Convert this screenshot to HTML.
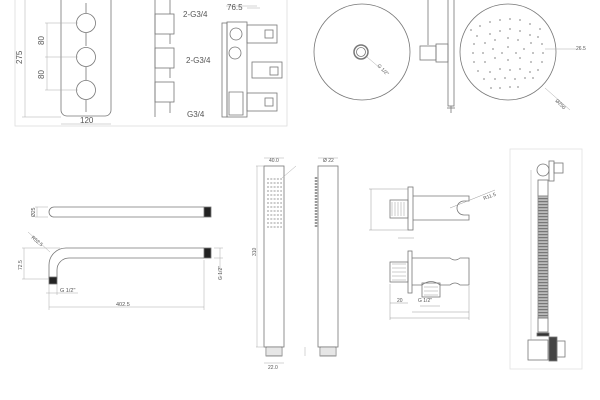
<!DOCTYPE html>
<html><head><meta charset="utf-8"><style>
html,body{margin:0;padding:0;background:#fff;width:600px;height:400px;overflow:hidden}
svg{display:block}
text{font-family:"Liberation Sans",sans-serif;fill:#555}
</style></head><body>
<svg width="600" height="400" viewBox="0 0 600 400" xmlns="http://www.w3.org/2000/svg">
<defs>
<pattern id="hs" width="10" height="3" patternUnits="userSpaceOnUse"><rect width="10" height="3" fill="#bbb"/><rect width="10" height="1.2" fill="#777"/></pattern>
</defs>
<g fill="none" stroke="#777" stroke-width="0.8">
<rect x="15" y="-2" width="272" height="128" stroke="#ddd"/>
<rect x="61" y="-8" width="50" height="124" rx="6"/>
<circle cx="86" cy="23" r="9.5"/><circle cx="86" cy="57" r="9.5"/><circle cx="86" cy="90" r="9.5"/>
<line x1="86" y1="3" x2="86" y2="13"/><line x1="86" y1="33" x2="86" y2="46"/><line x1="86" y1="67" x2="86" y2="80"/><line x1="86" y1="100" x2="86" y2="112"/>
<g stroke="#aaa" stroke-width="0.5">
<line x1="25" y1="0" x2="25" y2="117"/><line x1="22" y1="117" x2="61" y2="117"/>
<line x1="45" y1="23" x2="78" y2="23"/><line x1="45" y1="57" x2="78" y2="57"/><line x1="45" y1="90" x2="78" y2="90"/>
<line x1="47" y1="23" x2="47" y2="90"/>
<line x1="61" y1="124" x2="111" y2="124"/>
</g>
<line x1="155" y1="0" x2="155" y2="117"/>
<rect x="155" y="14" width="19" height="20"/><rect x="155" y="48" width="19" height="20"/><rect x="155" y="82" width="19" height="20"/>
<line x1="170" y1="0" x2="170" y2="14"/><line x1="170" y1="34" x2="170" y2="44"/><line x1="170" y1="68" x2="170" y2="78"/><line x1="170" y1="102" x2="170" y2="113"/>
<rect x="222" y="23" width="5" height="94"/>
<rect x="227" y="22" width="20" height="95"/>
<circle cx="236" cy="34" r="6"/><circle cx="235" cy="53" r="6"/>
<rect x="247" y="25" width="30" height="18"/><rect x="252" y="62" width="30" height="16"/><rect x="247" y="93" width="30" height="18"/>
<rect x="265" y="30" width="8" height="8"/><rect x="270" y="67" width="8" height="8"/><rect x="265" y="98" width="8" height="8"/>
<path d="M229 92 L243 92 L243 115 L229 115 Z"/>
<line x1="247" y1="8" x2="260" y2="8" stroke="#aaa" stroke-width="0.5"/>
<line x1="226" y1="6" x2="257" y2="6" stroke="#aaa" stroke-width="0.5"/>
<circle cx="362" cy="52" r="48"/>
<circle cx="361" cy="52" r="7" stroke-width="1.5"/><circle cx="361" cy="52" r="4.5"/>
<line x1="367" y1="57" x2="380" y2="68" stroke="#aaa" stroke-width="0.5"/>
<rect x="448" y="-2" width="6" height="108"/>
<line x1="428" y1="0" x2="428" y2="45"/>
<rect x="420" y="46" width="16" height="14"/><rect x="436" y="44" width="12" height="18"/>
<line x1="451" y1="106" x2="451" y2="113"/><line x1="447" y1="108" x2="455" y2="108"/>
<circle cx="508" cy="52" r="48"/>
<line x1="545" y1="49" x2="576" y2="49" stroke="#aaa" stroke-width="0.5"/>
<line x1="545" y1="88" x2="570" y2="110" stroke="#aaa" stroke-width="0.5"/>
<path d="M204 207 L54 207 A5 5 0 0 0 54 217 L204 217"/>
<rect x="204" y="207" width="7" height="10" fill="#222"/>
<path d="M204 248 L66 248 A17 17 0 0 0 49 265 L49 279 M57 279 L57 270 A12 12 0 0 1 69 258 L204 258"/>
<rect x="204" y="248" width="7" height="10" fill="#222"/>
<rect x="49" y="277" width="8" height="7" fill="#222"/>
<g stroke="#aaa" stroke-width="0.5">
<line x1="37" y1="207" x2="37" y2="217"/><line x1="35" y1="207" x2="48" y2="207"/><line x1="35" y1="217" x2="48" y2="217"/>
<line x1="22" y1="248" x2="60" y2="248"/><line x1="22" y1="279" x2="49" y2="279"/><line x1="24" y1="248" x2="24" y2="279"/>
<line x1="28" y1="232" x2="50" y2="252"/>
<line x1="214" y1="248" x2="223" y2="248"/><line x1="214" y1="258" x2="223" y2="258"/><line x1="220" y1="248" x2="220" y2="280"/>
<line x1="49" y1="284" x2="49" y2="310"/><line x1="57" y1="284" x2="57" y2="295"/><line x1="46" y1="293" x2="78" y2="293"/>
<line x1="204" y1="260" x2="204" y2="310"/><line x1="49" y1="307" x2="204" y2="307"/>
</g>
<rect x="264" y="166" width="20" height="181"/>
<rect x="266" y="347" width="16" height="9"/>
<rect x="318" y="166" width="20" height="181"/>
<rect x="320" y="347" width="16" height="9"/>
<g stroke="#aaa" stroke-width="0.5">
<line x1="256" y1="166" x2="264" y2="166"/><line x1="256" y1="347" x2="264" y2="347"/><line x1="257" y1="166" x2="257" y2="347"/>
<line x1="264" y1="158" x2="284" y2="158"/><line x1="318" y1="158" x2="338" y2="158"/>
<line x1="264" y1="363" x2="284" y2="363"/><line x1="305" y1="347" x2="305" y2="356"/>
<line x1="282" y1="178" x2="296" y2="166"/>
</g>
<g stroke="#bbb" stroke-dasharray="2 1.3" stroke-width="1.4">
<line x1="267" y1="179" x2="282" y2="179"/><line x1="267" y1="183" x2="282" y2="183"/><line x1="267" y1="187" x2="282" y2="187"/><line x1="267" y1="191" x2="282" y2="191"/><line x1="267" y1="195" x2="282" y2="195"/><line x1="267" y1="199" x2="282" y2="199"/><line x1="267" y1="203" x2="282" y2="203"/><line x1="267" y1="207" x2="282" y2="207"/><line x1="267" y1="211" x2="282" y2="211"/><line x1="267" y1="215" x2="282" y2="215"/><line x1="267" y1="219" x2="282" y2="219"/><line x1="267" y1="223" x2="282" y2="223"/><line x1="267" y1="227" x2="282" y2="227"/>
</g>
<line x1="316" y1="177" x2="316" y2="228" stroke="#999" stroke-width="2.5" stroke-dasharray="2 1"/>
<g stroke="#999" stroke-width="0.5">
<line x1="267" y1="349" x2="281" y2="349"/><line x1="267" y1="351" x2="281" y2="351"/><line x1="267" y1="353" x2="281" y2="353"/><line x1="267" y1="355" x2="281" y2="355"/>
<line x1="321" y1="349" x2="335" y2="349"/><line x1="321" y1="351" x2="335" y2="351"/><line x1="321" y1="353" x2="335" y2="353"/><line x1="321" y1="355" x2="335" y2="355"/>
</g>
<rect x="408" y="187" width="5" height="43"/>
<path d="M413 196 L469 196 L469 201 L464 201 A6 6 0 1 0 464 215 L469 215 L469 220 L413 220"/>
<rect x="390" y="200" width="18" height="18"/>
<g stroke="#999" stroke-width="0.5">
<line x1="392" y1="202" x2="392" y2="216"/><line x1="395" y1="202" x2="395" y2="216"/><line x1="398" y1="202" x2="398" y2="216"/><line x1="401" y1="202" x2="401" y2="216"/><line x1="404" y1="202" x2="404" y2="216"/>
<line x1="371" y1="189" x2="371" y2="230"/><line x1="369" y1="189" x2="408" y2="189"/><line x1="369" y1="230" x2="408" y2="230"/>
<line x1="398" y1="238" x2="414" y2="238"/><line x1="450" y1="208" x2="495" y2="190"/>
</g>
<rect x="408" y="251" width="4" height="42"/>
<path d="M412 258 L450 258 Q455 262 460 258 L469 258 L469 285 L460 285 Q455 281 450 285 L440 285 Q431 278 422 285 L412 285"/>
<rect x="390" y="262" width="18" height="20"/>
<rect x="422" y="283" width="18" height="14"/>
<g stroke="#999" stroke-width="0.5">
<line x1="392" y1="264" x2="406" y2="264"/><line x1="392" y1="268" x2="406" y2="268"/><line x1="392" y1="272" x2="406" y2="272"/><line x1="392" y1="276" x2="406" y2="276"/><line x1="392" y1="280" x2="406" y2="280"/>
<line x1="424" y1="287" x2="438" y2="287"/><line x1="424" y1="291" x2="438" y2="291"/><line x1="424" y1="295" x2="438" y2="295"/>
<line x1="390" y1="303" x2="408" y2="303"/><line x1="420" y1="306" x2="440" y2="306"/><line x1="412" y1="312" x2="469" y2="312"/><line x1="390" y1="318" x2="469" y2="318"/>
<line x1="390" y1="284" x2="390" y2="320"/><line x1="469" y1="286" x2="469" y2="320"/>
</g>
<rect x="510" y="149" width="72" height="220" stroke="#e2e2e2"/>
<circle cx="543" cy="170" r="6"/>
<rect x="549" y="161" width="5" height="20"/><rect x="554" y="163" width="9" height="10"/>
<rect x="538" y="180" width="10" height="16"/>
<rect x="538" y="196" width="10" height="122" fill="url(#hs)" stroke="#888"/>
<rect x="538" y="318" width="10" height="14"/>
<rect x="537" y="333" width="12" height="3" fill="#333"/>
<rect x="528" y="340" width="20" height="20"/>
<rect x="549" y="337" width="8" height="24" fill="#444"/><rect x="557" y="341" width="8" height="16"/>
<line x1="531" y1="170" x2="531" y2="340" stroke="#aaa" stroke-width="0.5"/>
</g>
<g fill="#999">
<circle cx="471" cy="30" r="0.9"/><circle cx="480" cy="26" r="0.9"/><circle cx="490" cy="22" r="0.9"/><circle cx="500" cy="20" r="0.9"/><circle cx="510" cy="19" r="0.9"/><circle cx="520" cy="20" r="0.9"/><circle cx="530" cy="24" r="0.9"/><circle cx="540" cy="29" r="0.9"/>
<circle cx="477" cy="36" r="0.9"/><circle cx="490" cy="34" r="0.9"/><circle cx="500" cy="31" r="0.9"/><circle cx="510" cy="29" r="0.9"/><circle cx="520" cy="31" r="0.9"/><circle cx="530" cy="35" r="0.9"/><circle cx="538" cy="37" r="0.9"/>
<circle cx="474" cy="44" r="0.9"/><circle cx="485" cy="43" r="0.9"/><circle cx="495" cy="40" r="0.9"/><circle cx="508" cy="38" r="0.9"/><circle cx="518" cy="40" r="0.9"/><circle cx="531" cy="43" r="0.9"/><circle cx="542" cy="44" r="0.9"/>
<circle cx="473" cy="53" r="0.9"/><circle cx="483" cy="53" r="0.9"/><circle cx="493" cy="49" r="0.9"/><circle cx="502" cy="53" r="0.9"/><circle cx="508" cy="47" r="0.9"/><circle cx="516" cy="53" r="0.9"/><circle cx="524" cy="49" r="0.9"/><circle cx="533" cy="53" r="0.9"/><circle cx="543" cy="53" r="0.9"/>
<circle cx="474" cy="62" r="0.9"/><circle cx="485" cy="62" r="0.9"/><circle cx="495" cy="58" r="0.9"/><circle cx="508" cy="60" r="0.9"/><circle cx="520" cy="58" r="0.9"/><circle cx="531" cy="62" r="0.9"/><circle cx="542" cy="62" r="0.9"/>
<circle cx="478" cy="71" r="0.9"/><circle cx="490" cy="72" r="0.9"/><circle cx="500" cy="69" r="0.9"/><circle cx="510" cy="70" r="0.9"/><circle cx="520" cy="69" r="0.9"/><circle cx="530" cy="72" r="0.9"/><circle cx="538" cy="70" r="0.9"/>
<circle cx="484" cy="79" r="0.9"/><circle cx="495" cy="79" r="0.9"/><circle cx="505" cy="78" r="0.9"/><circle cx="515" cy="79" r="0.9"/><circle cx="525" cy="78" r="0.9"/><circle cx="533" cy="78" r="0.9"/>
<circle cx="491" cy="88" r="0.9"/><circle cx="500" cy="88" r="0.9"/><circle cx="510" cy="87" r="0.9"/><circle cx="518" cy="87" r="0.9"/>
</g>
<g font-size="8">
<text x="183" y="17">2-G3/4</text>
<text x="186" y="63">2-G3/4</text>
<text x="187" y="117">G3/4</text>
<text x="227" y="10">76.5</text>
<text x="80" y="123">120</text>
<text transform="translate(22,64) rotate(-90)">275</text>
<text transform="translate(44,45) rotate(-90)">80</text>
<text transform="translate(44,79) rotate(-90)">80</text>
<text x="60" y="292" font-size="5.5">G 1/2"</text>
<text x="116" y="306" font-size="5.5">402.5</text>
</g>
<g font-size="5">
<text transform="translate(35,217) rotate(-90)">Ø25</text>
<text transform="translate(22,270) rotate(-90)">72.5</text>
<text transform="translate(222,280) rotate(-90)">G 1/2"</text>
<text transform="translate(31,238) rotate(40)">R52.5</text>
<text transform="translate(256,256) rotate(-90)">310</text>
<text x="269" y="162">40.0</text><text x="323" y="162">Ø 22</text>
<text x="268" y="369">22.0</text>
<text x="576" y="50">26.5</text>
<text transform="translate(377,66) rotate(45)">G 1/2"</text>
<text transform="translate(555,101) rotate(45)">Ø250</text>
<text x="484" y="200" transform="rotate(-20 484 200)">R11.5</text>
<text x="418" y="302">G 1/2"</text>
<text x="397" y="302">20</text>
</g>
</svg>
</body></html>
